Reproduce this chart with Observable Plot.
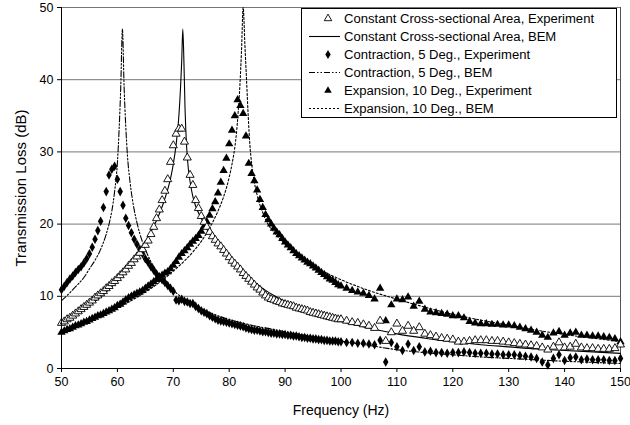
<!DOCTYPE html>
<html>
<head>
<meta charset="utf-8">
<script src="https://cdn.jsdelivr.net/npm/d3@7"></script>
<script src="https://cdn.jsdelivr.net/npm/@observablehq/plot@0.6"></script>
<style>
  html, body { margin: 0; padding: 0; background: #fff; }
  #wrap { position: relative; width: 630px; height: 425px; font-family: "Liberation Sans", Arial, sans-serif; }
  #legend { position: absolute; left: 301px; top: 8px; width: 316px; height: 110px; border: 1px solid #000; background: #fff; padding-top: 0; box-sizing: border-box; }
  .row { height: 18px; display: flex; align-items: center; font-size: 13px; color: #000; white-space: nowrap; }
  .row svg { width: 42px; height: 18px; flex: none; }
</style>
</head>
<body>
<div id="wrap"><div id="legend"></div></div>
<script>
// ---- data ----
const xTicks = [50, 60, 70, 80, 90, 100, 110, 120, 130, 140, 150];
const yTicks = [0, 10, 20, 30, 40, 50];

const seriesNames = [
  "Constant Cross-sectional Area, Experiment",
  "Constant Cross-sectional Area, BEM",
  "Contraction, 5 Deg., Experiment",
  "Contraction, 5 Deg., BEM",
  "Expansion, 10 Deg., Experiment",
  "Expansion, 10 Deg., BEM"
];

// measurement frequencies (Hz)
const freqExp = [
  50,50.5,51,51.5,52,52.5,53,53.5,54,54.5,55,55.5,56,56.5,57,57.5,58,58.5,59,59.5,
  60,60.5,61,61.5,62,62.5,63,63.5,64,64.5,65,65.5,66,66.5,67,67.5,68,68.5,69,69.5,
  70,70.5,71,71.5,72,72.5,73,73.5,74,74.5,75,75.5,76,76.5,77,77.5,78,78.5,79,79.5,
  80,80.5,81,81.5,82,82.5,83,83.5,84,84.5,85,85.5,86,86.5,87,87.5,88,88.5,89,89.5,
  90,90.5,91,91.5,92,92.5,93,93.5,94,94.5,95,95.5,96,96.5,97,97.5,98,98.5,99,99.5,
  100,101,102,103,104,105,106,107,108,109,110,111,112,113,114,115,116,117,118,119,
  120,121,122,123,124,125,126,127,128,129,130,131,132,133,134,135,136,137,138,139,
  140,141,142,143,144,145,146,147,148,149,150
];

// Constant cross-sectional area, experiment
const constExp = [
  6.3,6.5,6.8,7.0,7.3,7.6,7.9,8.2,8.5,8.8,9.1,9.4,9.8,10.1,10.4,10.7,11.1,11.4,11.8,12.1,
  12.5,12.9,13.3,13.7,14.2,14.6,15.1,15.5,16.0,16.5,17.1,17.7,18.6,19.6,20.8,22.0,23.3,24.6,26.2,28.6,
  30.9,32.5,33.2,33.2,31.4,29.2,26.8,25.4,23.3,22.2,21.1,20.3,19.6,18.9,18.3,17.8,17.3,16.9,16.4,15.9,
  15.4,14.9,14.5,14.1,13.7,13.2,12.8,12.4,12.0,11.6,11.2,10.9,10.5,10.1,9.8,9.6,9.5,9.3,9.2,9.0,
  8.9,8.8,8.7,8.6,8.4,8.3,8.2,8.1,8.0,7.8,7.7,7.6,7.5,7.4,7.3,7.2,7.1,7.0,6.9,6.8,
  6.8,6.6,6.4,6.3,6.1,5.9,5.6,6.6,3.8,5.0,6.2,5.2,5.9,5.2,5.7,4.8,4.6,4.4,4.2,4.1,
  4.0,3.7,3.7,3.8,3.9,3.9,3.9,3.8,3.8,3.7,3.6,3.5,3.4,3.3,3.2,3.1,2.9,2.6,3.0,3.6,
  2.9,3.0,3.4,2.9,2.8,2.8,2.7,2.7,2.7,2.8,3.3
];

// Contraction 5 deg, experiment
const contrExp = [
  10.9,11.4,11.9,12.4,12.8,13.3,13.7,14.1,14.6,15.2,15.9,16.8,17.9,19.1,20.4,22.3,24.5,26.8,27.6,28.0,
  26.2,24.5,22.6,20.8,19.8,18.8,17.9,17.2,16.5,15.9,15.2,14.7,14.1,13.6,13.1,12.7,12.3,11.9,11.5,11.1,
  10.7,9.5,9.4,9.6,9.3,9.2,9.0,9.0,8.6,8.3,8.0,7.8,7.6,7.3,7.1,6.9,6.7,6.6,6.5,6.4,
  6.3,6.2,6.1,6.0,5.9,5.8,5.6,5.5,5.4,5.3,5.3,5.2,5.1,5.1,5.0,4.9,4.9,4.8,4.8,4.7,
  4.7,4.6,4.6,4.5,4.5,4.4,4.3,4.3,4.2,4.2,4.1,4.1,4.0,4.0,3.9,3.9,3.8,3.8,3.8,3.7,
  3.7,3.6,3.6,3.5,3.5,3.4,3.3,3.9,0.9,3.6,3.0,2.5,3.4,2.5,3.0,2.3,2.4,2.2,2.2,2.1,
  2.2,2.2,2.3,2.2,2.1,2.1,2.1,2.0,2.0,1.9,1.9,1.9,1.8,1.7,1.6,1.4,0.9,0.5,1.4,1.9,
  1.1,1.5,1.6,1.2,1.3,1.2,1.2,1.2,1.1,1.1,1.4
];

// Expansion 10 deg, experiment
const expanExp = [
  5.0,5.2,5.4,5.5,5.7,5.9,6.0,6.2,6.4,6.5,6.7,6.9,7.1,7.3,7.4,7.6,7.8,8.0,8.2,8.4,
  8.7,8.9,9.2,9.5,9.8,10.0,10.2,10.4,10.6,10.8,11.1,11.4,11.7,12.0,12.3,12.6,12.9,13.2,13.4,13.8,
  14.3,14.8,15.4,15.9,16.3,16.7,17.2,17.6,18.0,18.4,19.0,19.7,20.3,21.2,22.1,23.1,24.3,25.8,27.4,29.1,
  31.1,33.0,35.0,37.2,36.4,35.3,32.2,28.4,27.0,26.0,24.7,23.4,22.3,21.3,20.6,20.0,19.4,18.9,18.5,18.0,
  17.5,17.1,16.7,16.3,15.9,15.6,15.3,15.0,14.7,14.5,14.2,13.9,13.6,13.3,13.0,12.7,12.4,12.2,11.9,11.6,
  11.4,11.1,10.8,10.6,10.4,10.1,9.6,11.1,6.6,8.8,9.6,9.5,9.9,8.6,9.3,8.2,7.8,7.7,7.6,7.5,
  7.3,7.3,7.0,6.5,6.3,6.2,6.2,6.1,6.1,6.0,6.0,5.9,5.7,5.5,5.3,5.0,4.6,4.3,4.9,5.1,
  4.6,4.9,5.0,4.6,4.6,4.5,4.5,4.4,4.3,4.1,3.7
];

// BEM predictions
const freqConstBem = [50,52,54,56,58,60,62,64,65,66,67,68,69,69.5,70,70.5,71,71.3,71.5,71.7,71.9,72.1,72.4,72.7,73,73.5,74,75,76,77,78,79,80,82,84,86,88,90,93,96,100,105,110,115,120,125,130,135,140,145,150];
const constBem = [6.2,7.1,8.1,9.3,10.6,12.1,14.0,16.3,17.5,18.9,20.5,22.4,24.8,26.3,28.3,31.0,35.0,39.0,42.5,47.0,42.5,36.0,30.5,27.6,25.9,23.8,22.5,20.8,19.3,18.2,17.2,16.2,15.3,13.7,12.3,11.1,10.1,9.3,8.2,7.4,6.5,5.6,4.8,4.2,3.7,3.3,3.0,2.7,2.5,2.3,2.1];

const freqContrBem = [50,51,52,53,54,55,56,57,58,58.5,59,59.5,60,60.3,60.6,60.9,61.2,61.5,61.8,62.3,63,63.5,64,64.5,65,66,67,68,69,70,72,74,76,78,80,84,88,92,96,100,105,110,115,120,125,130,135,140,145,150];
const contrBem = [9.4,10.1,10.9,11.7,12.6,13.8,15.0,16.5,18.6,20.0,21.8,24.5,28.5,33.0,39.0,47.0,39.0,33.5,29.5,25.6,22.0,20.2,18.7,17.5,16.5,14.8,13.5,12.4,11.5,10.8,9.6,8.6,7.9,7.3,6.8,6.0,5.4,4.8,4.3,3.8,3.2,2.6,2.2,1.9,1.6,1.4,1.2,1.0,0.85,0.7];

const freqExpanBem = [50,52,54,56,58,60,62,64,66,68,70,72,74,75,76,77,78,79,79.5,80,80.5,81,81.3,81.6,81.9,82.2,82.5,82.8,83.1,83.4,83.7,84,84.5,85,86,87,88,89,90,92,94,96,98,100,105,110,115,120,125,130,135,140,145,150];
const expanBem = [5.0,5.6,6.2,6.9,7.6,8.4,9.2,10.1,11.1,12.2,13.5,14.9,16.6,17.6,18.8,20.2,21.8,23.8,25.0,26.5,28.3,30.6,32.6,35.5,39.0,44.0,50.0,45.0,40.0,35.0,31.0,28.5,25.8,24.0,21.6,19.9,18.9,18.0,17.2,15.9,14.8,13.8,13.0,12.3,10.8,9.6,8.5,7.5,6.7,6.0,5.3,4.7,4.2,3.7];

// ---- build tables ----
const pts = (xs, ys) => xs.map((f, i) => ({f, v: ys[i]}));
const dConstExp = pts(freqExp, constExp);
const dContrExp = pts(freqExp, contrExp);
const dExpanExp = pts(freqExp, expanExp);
const dConstBem = pts(freqConstBem, constBem);
const dContrBem = pts(freqContrBem, contrBem);
const dExpanBem = pts(freqExpanBem, expanBem);

const font = '"Liberation Sans", Arial, sans-serif';
const dashContr = "6,2,1.5,2,1.5,2";
const dashExpan = "2,2";

const chart = Plot.plot({
  width: 630,
  height: 425,
  marginLeft: 61,
  marginRight: 10,
  marginTop: 7,
  marginBottom: 57,
  style: {fontFamily: font, fontSize: "12px", color: "#000", background: "#fff", overflow: "visible"},
  x: {domain: [50, 150]},
  y: {domain: [0, 50]},
  marks: [
    Plot.gridY(yTicks, {stroke: "#777", strokeOpacity: 1, strokeWidth: 1}),
    Plot.ruleX([150], {stroke: "#555", strokeWidth: 1}),
    Plot.line(dConstBem, {x: "f", y: "v", stroke: "#000", strokeWidth: 1.1, curve: "monotone-x"}),
    Plot.line(dContrBem, {x: "f", y: "v", stroke: "#000", strokeWidth: 1.1, strokeDasharray: dashContr, curve: "monotone-x"}),
    Plot.line(dExpanBem, {x: "f", y: "v", stroke: "#000", strokeWidth: 1.1, strokeDasharray: dashExpan, curve: "monotone-x"}),
    Plot.dot(dContrExp, {x: "f", y: "v", symbol: "diamond", r: 2.9, fill: "#000", stroke: "none"}),
    Plot.dot(dExpanExp, {x: "f", y: "v", symbol: "triangle", r: 3.1, fill: "#000", stroke: "none"}),
    Plot.dot(dConstExp, {x: "f", y: "v", symbol: "triangle", r: 3.0, fill: "#fff", stroke: "#000", strokeWidth: 0.9}),
    Plot.axisX(xTicks, {tickSize: 4, tickPadding: 5, fontSize: 12.5, label: "Frequency (Hz)", labelAnchor: "center", labelOffset: 46, labelArrow: "none"}),
    Plot.axisY(yTicks, {tickSize: 4, tickPadding: 4, fontSize: 12.5, label: "Transmission Loss (dB)", labelAnchor: "center", labelOffset: 46, labelArrow: "none"}),
    Plot.ruleY([0], {stroke: "#000"}),
    Plot.ruleX([50], {stroke: "#000"})
  ]
});
chart.querySelectorAll("g[aria-label='x-axis label'] text").forEach(t => t.setAttribute("font-size", "14"));
chart.querySelectorAll("g[aria-label='y-axis label'] text").forEach(t => t.setAttribute("font-size", "15"));
document.getElementById("wrap").prepend(chart);

// ---- legend ----
const legendStyles = [
  {kind: "sym", symbol: "triangle", fill: "#fff"},
  {kind: "line", dash: null},
  {kind: "sym", symbol: "diamond", fill: "#000"},
  {kind: "line", dash: dashContr},
  {kind: "sym", symbol: "triangle", fill: "#000"},
  {kind: "line", dash: dashExpan}
];
const legend = document.getElementById("legend");
const spans = [];
seriesNames.forEach((name, i) => {
  const s = legendStyles[i];
  const row = document.createElement("div");
  row.className = "row";
  let inner;
  if (s.kind === "line") {
    inner = `<line x1="7" x2="38" y1="9.5" y2="9.5" stroke="#000" stroke-width="1.1" ${s.dash ? `stroke-dasharray="${s.dash}"` : ""}/>`;
  } else {
    const path = d3.symbol(s.symbol === "diamond" ? d3.symbolDiamond : d3.symbolTriangle, Math.PI * 2.8 * 2.8)();
    inner = `<path transform="translate(26,9.5)" d="${path}" fill="${s.fill}" stroke="${s.fill === "#fff" ? "#000" : "none"}" stroke-width="0.9"/>`;
  }
  row.innerHTML = `<svg>${inner}</svg><span>${name}</span>`;
  legend.appendChild(row);
  spans.push(row.querySelector("span"));
});
// fit legend text so the longest entry spans ~250px as in the reference
const w0 = spans[0].getBoundingClientRect().width;
if (w0 > 0) {
  const fs = Math.min(15, Math.max(12, 13 * 250 / w0));
  legend.querySelectorAll(".row").forEach(r => r.style.fontSize = fs.toFixed(2) + "px");
}
</script>
</body>
</html>
